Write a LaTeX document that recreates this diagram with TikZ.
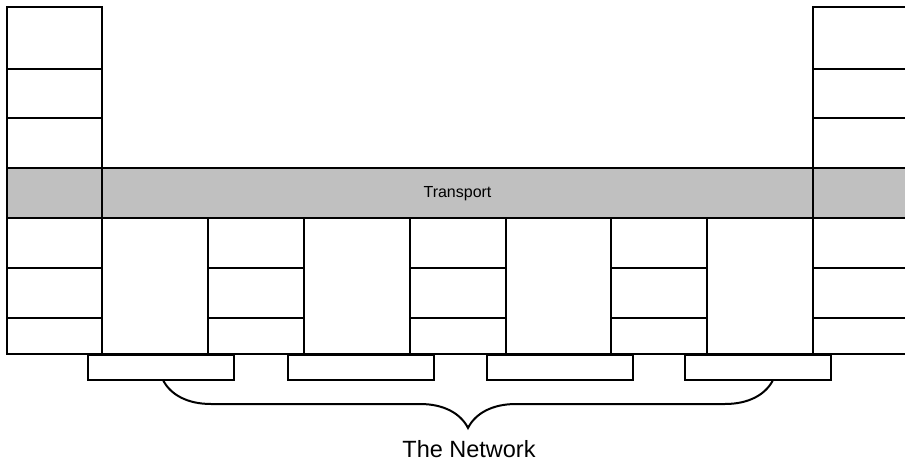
\documentclass[tikz,border=0pt]{standalone}
\usepackage{fontspec}
\setmainfont{Liberation Sans}
\usetikzlibrary{decorations.pathreplacing}
\definecolor{bandgray}{RGB}{192,192,192}
\begin{document}
\begin{tikzpicture}[x=1pt,y=-1pt, line width=2pt, line join=miter,
  netbox/.style={draw=black, fill=white, rectangle, inner sep=0pt, line width=2pt,
    minimum width=146pt, minimum height=25pt, anchor=north west},
  smalllbl/.style={font=\fontsize{16}{18}\selectfont, anchor=base, inner sep=0pt},
  biglbl/.style={font=\fontsize{23.5}{26}\selectfont, anchor=base, inner sep=0pt},
  bracestyle/.style={draw=black, line width=2pt, decorate, decoration={brace, amplitude=48pt, mirror}}]
\useasboundingbox (0,0) rectangle (905,462);
\begin{scope}
\clip (0,0) rectangle (905,462);
% transport band fill
\fill[bandgray] (7,168) rectangle (915,218);
% left column
\draw (7,7) rectangle (102,354);
\foreach \y in {69,118,268,318} \draw (7,\y) -- (102,\y);
% right column (open to the right)
\draw (915,7) -- (813,7) -- (813,354);
\foreach \y in {69,118,268,318} \draw (813,\y) -- (915,\y);
% band edges
\draw (7,168) -- (915,168);
\draw (7,218) -- (915,218);
% bottom line
\draw (7,354) -- (915,354);
% lower region verticals
\foreach \x in {208,304,410,506,611,707} \draw (\x,218) -- (\x,354);
% inner stacks
\foreach \a/\b in {208/304,410/506,611/707} {
  \draw (\a,268) -- (\b,268);
  \draw (\a,318) -- (\b,318);
}
\end{scope}
% transport label
\node[smalllbl] (tr) at (457.5,197.5) {Transport};
% network boxes
\node[netbox] (b1) at (87,354) {};
\node[netbox] (b2) at (287,354) {};
\node[netbox] (b3) at (486,354) {};
\node[netbox] (b4) at (684,354) {};
% brace
\coordinate (bl) at (163,380);
\coordinate (br) at (773,380);
\draw[bracestyle] (bl) -- (br);
\node[biglbl] (net) at (469,457) {The Network};
\end{tikzpicture}
\end{document}
